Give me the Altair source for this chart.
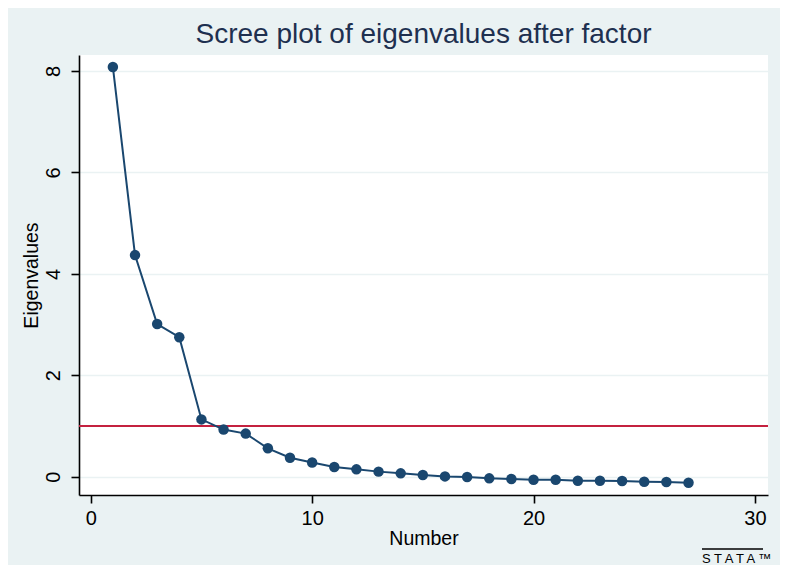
import altair as alt
import pandas as pd

numbers = list(range(1, 28))
eigenvalues = [8.08, 4.37, 3.01, 2.75, 1.13, 0.93, 0.85, 0.56, 0.375, 0.28,
               0.19, 0.145, 0.10, 0.066, 0.033, 0.006, -0.006, -0.033, -0.046, -0.06,
               -0.06, -0.08, -0.08, -0.086, -0.10, -0.105, -0.12]
x_ticks = [0, 10, 20, 30]
y_ticks = [0, 2, 4, 6, 8]
ref_value = 1

df = pd.DataFrame({"Number": numbers, "Eigenvalues": eigenvalues})

NAVY = "#1A476F"
BG = "#EAF2F3"
FONT = "Liberation Sans"

xs = alt.Scale(domain=[-0.53, 30.59], nice=False, zero=False)
ys = alt.Scale(domain=[-0.361, 8.316], nice=False, zero=False)

base = alt.Chart(df)

line = base.mark_line(color=NAVY, strokeWidth=2).encode(
    x=alt.X("Number:Q", scale=xs,
            axis=alt.Axis(values=x_ticks, title="Number", grid=False,
                          labelFontSize=20, titleFontSize=19.5, tickSize=8,
                          labelPadding=5, titlePadding=1, domainColor="black",
                          tickColor="black", domainWidth=1.6, tickWidth=1.6,
                          labelColor="black", titleColor="black",
                          labelFont=FONT, titleFont=FONT, titleFontWeight="normal",
                          labelFlush=False)),
    y=alt.Y("Eigenvalues:Q", scale=ys,
            axis=alt.Axis(values=y_ticks, title="Eigenvalues", grid=True,
                          gridColor=BG, gridWidth=1.5,
                          labelFontSize=20, titleFontSize=19.5, tickSize=8,
                          labelAngle=270, labelAlign="center", labelBaseline="bottom",
                          labelPadding=8, titlePadding=2, domainColor="black",
                          tickColor="black", domainWidth=1.6, tickWidth=1.6,
                          labelColor="black", titleColor="black",
                          labelFont=FONT, titleFont=FONT, titleFontWeight="normal",
                          labelFlush=False)),
)

points = base.mark_point(filled=True, color=NAVY, size=110, opacity=1).encode(
    x=alt.X("Number:Q", scale=xs),
    y=alt.Y("Eigenvalues:Q", scale=ys),
)

rule = alt.Chart(pd.DataFrame({"y": [ref_value]})).mark_rule(
    color="#C4213F", strokeWidth=2
).encode(y=alt.Y("y:Q", scale=ys))

logo_text = alt.Chart(pd.DataFrame({"t": ["S T A T A ™"]})).mark_text(
    align="left", baseline="alphabetic", fontSize=13, font=FONT,
    color="black"
).encode(text="t:N", x=alt.value(623), y=alt.value(508))

logo_line = alt.Chart(pd.DataFrame({"a": [0]})).mark_rule(
    color="black", strokeWidth=1.4
).encode(x=alt.value(623), x2=alt.value(684), y=alt.value(494))

chart = alt.layer(rule, line, points, logo_line, logo_text).properties(
    width=689,
    height=440,
    title=alt.TitleParams(
        "Scree plot of eigenvalues after factor",
        fontSize=28, font=FONT, fontWeight="normal", color="#1E3050",
        anchor="middle", offset=6,
    ),
    autosize=alt.AutoSizeParams(type="none"),
    padding={"left": 71, "top": 47, "right": 12, "bottom": 70},
    background=BG,
).configure_view(fill="white", stroke=None)

chart.save("out.html", embed_options={"renderer": "svg", "actions": False})
